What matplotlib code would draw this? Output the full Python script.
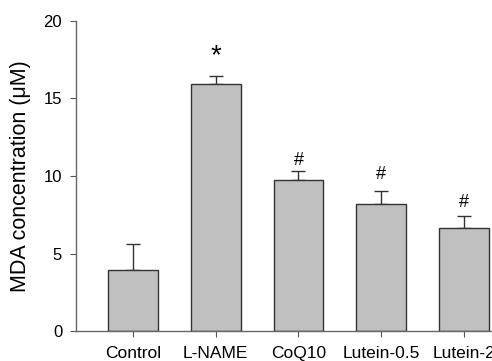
import matplotlib
matplotlib.use("Agg")
import matplotlib.pyplot as plt

categories = ["Control", "L-NAME", "CoQ10", "Lutein-0.5", "Lutein-2"]
values = [3.95, 15.95, 9.75, 8.2, 6.65]
errors = [1.65, 0.5, 0.55, 0.82, 0.75]
marks = ["", "*", "#", "#", "#"]
mark_y = [None, 17.7, 11.0, 10.1, 8.3]
yticks = [0, 5, 10, 15, 20]

plt.rcParams['font.family'] = ['Liberation Sans', 'DejaVu Sans']

fig = plt.figure(figsize=(4.92, 3.61), dpi=100)
ax = fig.add_axes([0.1545, 0.083, 0.8455, 0.859])
x = list(range(len(categories)))
ax.bar(x, values, width=0.6, color="#c0c0c0", edgecolor="#333333", linewidth=1.0, zorder=2)
ax.errorbar(x, values, yerr=[[0]*len(errors), errors], fmt="none", ecolor="#333333",
            elinewidth=1.0, capsize=5, capthick=1.0, zorder=1)
for xi, m, my in zip(x, marks, mark_y):
    if m:
        ax.text(xi, my, m, ha="center", va="center",
                fontsize=20 if m == "*" else 13, color="black")
ax.set_xlim(-0.69, 4.34)
ax.set_ylim(0, 20)
ax.set_yticks(yticks)
ax.set_xticks(x)
ax.set_xticklabels(categories, fontsize=12.5)
ax.tick_params(axis="y", labelsize=12, direction="out", length=4, color="#555555", pad=6)
ax.tick_params(axis="x", direction="out", length=4, color="#555555", pad=7)
for s in ["top", "right"]:
    ax.spines[s].set_visible(False)
for s in ["left", "bottom"]:
    ax.spines[s].set_color("#666666")
    ax.spines[s].set_linewidth(1.0)
ax.set_ylabel("MDA concentration (μM)", fontsize=15.5, labelpad=9)
fig.savefig("out.png", dpi=100)
